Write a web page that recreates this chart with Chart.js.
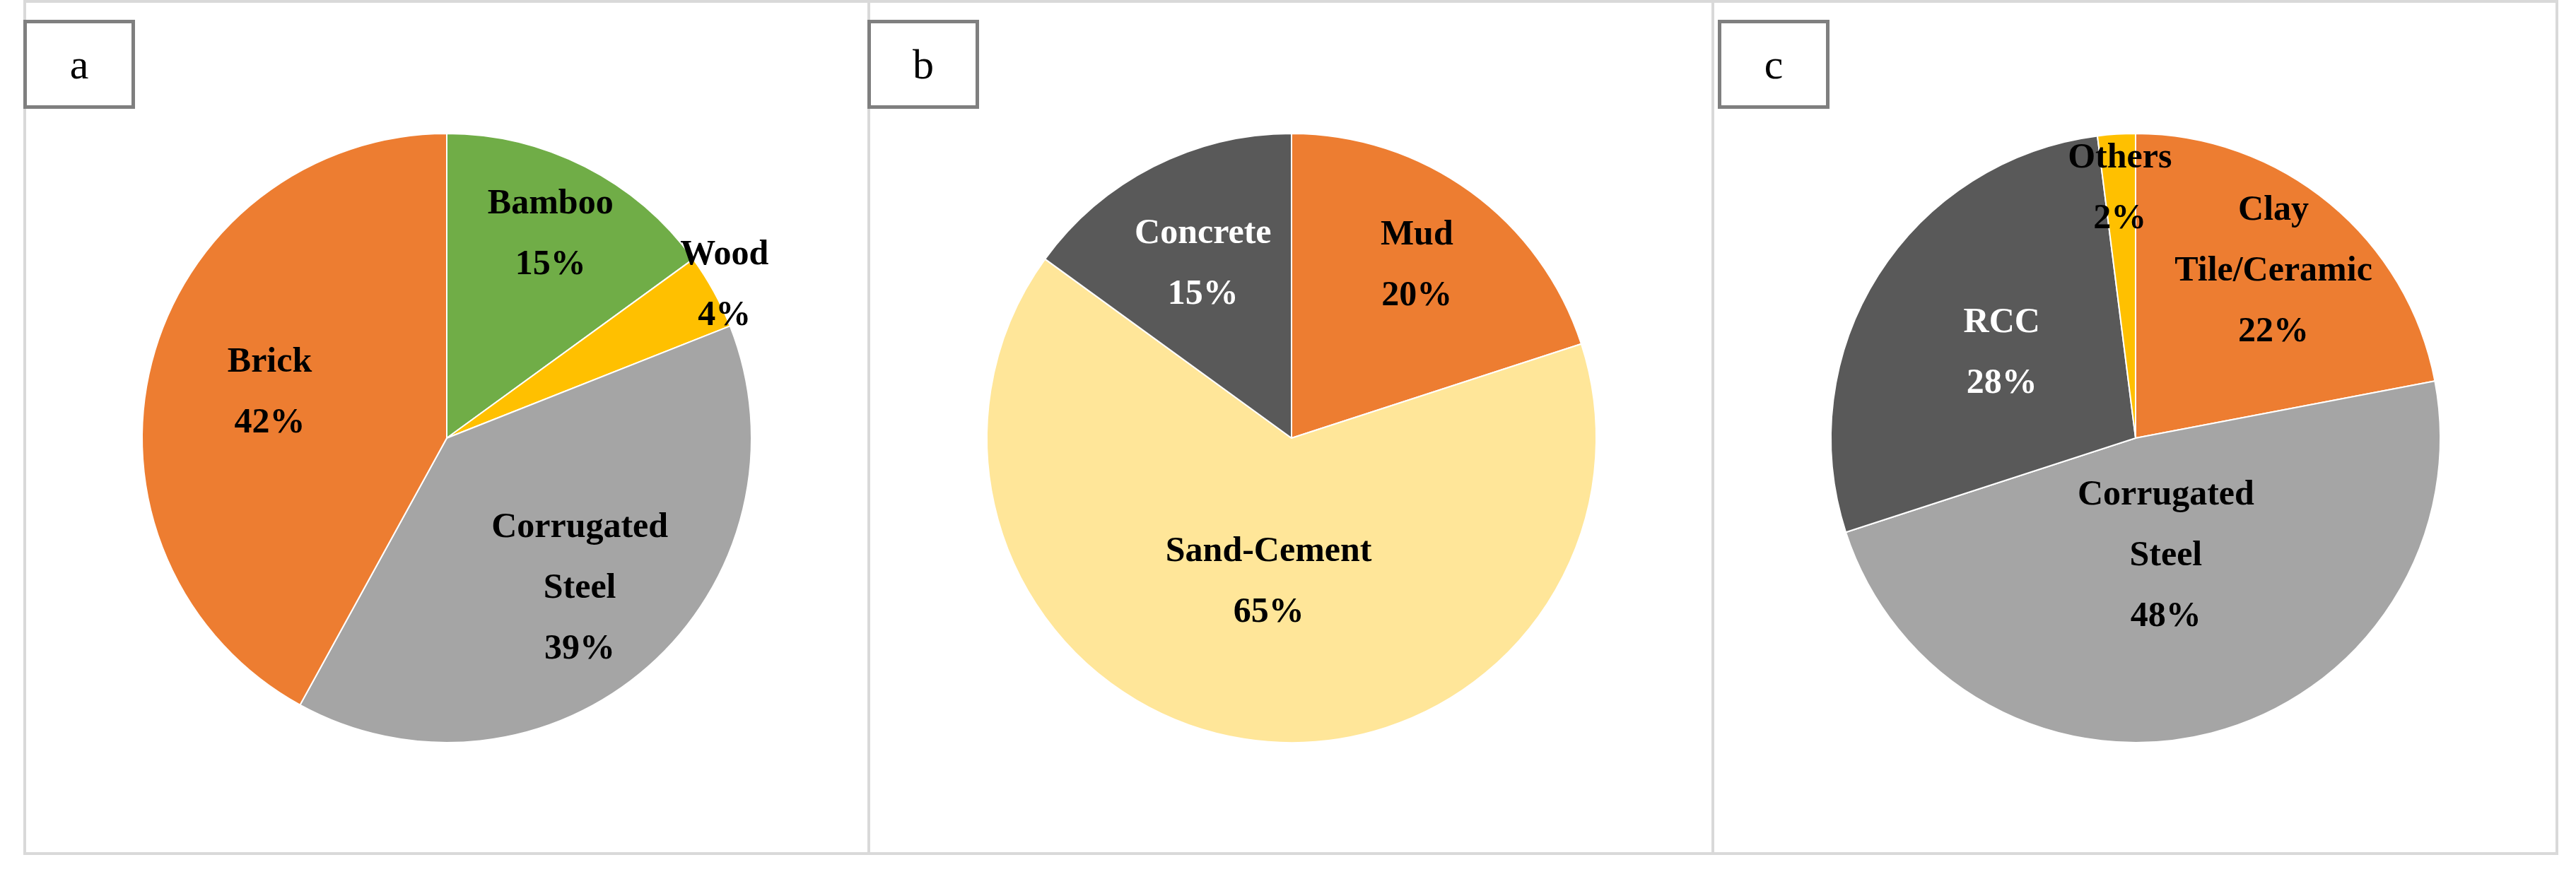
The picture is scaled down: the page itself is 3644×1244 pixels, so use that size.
<!DOCTYPE html>
<html>
<head>
<meta charset="utf-8">
<script src="https://cdn.jsdelivr.net/npm/chart.js@4/dist/chart.umd.min.js"></script>
<style>
  body { margin: 0; background: #fff; width: 3644px; height: 1244px; position: relative; overflow: hidden; }
  .panel { position: absolute; top: 0; height: 1210px; border: 4px solid #d9d9d9; box-sizing: border-box; }
  .tag { position: absolute; top: 28px; width: 158px; height: 126px; border: 5px solid #7f7f7f; box-sizing: border-box;
         font: 60px "Liberation Serif", "DejaVu Serif", serif; display: flex; align-items: center; justify-content: center; background: #fff; }
  .pie { position: absolute; top: 120px; width: 1000px; height: 1000px; }
</style>
</head>
<body>
<div class="panel" style="left:33px;width:1198px"></div>
<div class="panel" style="left:1227px;width:1198px"></div>
<div class="panel" style="left:2421px;width:1198px"></div>
<div class="tag" style="left:33px">a</div>
<div class="tag" style="left:1227px">b</div>
<div class="tag" style="left:2430px">c</div>
<div class="pie" style="left:132px"><canvas id="pieA"></canvas></div>
<div class="pie" style="left:1327px"><canvas id="pieB"></canvas></div>
<div class="pie" style="left:2521px"><canvas id="pieC"></canvas></div>
<script>
// dados de cada gráfico
const labelsA = [['Bamboo'], ['Wood'], ['Corrugated', 'Steel'], ['Brick']];
const valuesA = [15, 4, 39, 42];
const labelsB = [['Mud'], ['Sand-Cement'], ['Concrete']];
const valuesB = [20, 65, 15];
const labelsC = [['Clay', 'Tile/Ceramic'], ['Corrugated', 'Steel'], ['RCC'], ['Others']];
const valuesC = [22, 48, 28, 2];

// rótulos desenhados dentro/fora das fatias
const sliceLabels = {
  id: 'sliceLabels',
  afterDatasetsDraw(chart, args, opts) {
    const c = chart.ctx;
    const meta = chart.getDatasetMeta(0);
    const vals = chart.data.datasets[0].data;
    c.save();
    c.font = 'bold 50px "Liberation Serif", "DejaVu Serif", serif';
    c.textAlign = 'center';
    c.textBaseline = 'middle';
    meta.data.forEach((arc, i) => {
      const p = arc.getProps(['x', 'y', 'startAngle', 'endAngle', 'outerRadius']);
      const mid = (p.startAngle + p.endAngle) / 2;
      const r = p.outerRadius * opts.dist[i];
      const x = p.x + Math.cos(mid) * r;
      const y = p.y + Math.sin(mid) * r;
      const lines = chart.data.labels[i].concat([vals[i] + '%']);
      const lh = 86;
      c.fillStyle = opts.colors[i];
      lines.forEach((t, k) => c.fillText(t, x, y + (k - (lines.length - 1) / 2) * lh));
    });
    c.restore();
  }
};

function makePie(id, labels, values, colors, dist, textColors) {
  new Chart(document.getElementById(id), {
    type: 'pie',
    data: { labels: labels, datasets: [{ data: values, backgroundColor: colors, borderColor: '#fff', borderWidth: 2 }] },
    options: {
      responsive: true, maintainAspectRatio: false, animation: false,
      layout: { padding: 68 },
      plugins: { legend: { display: false }, tooltip: { enabled: false },
                 sliceLabels: { dist: dist, colors: textColors } }
    },
    plugins: [sliceLabels]
  });
}

makePie('pieA', labelsA, valuesA, ['#70AD47', '#FFC000', '#A5A5A5', '#ED7D31'],
        [0.75, 1.04, 0.66, 0.6], ['#000', '#000', '#000', '#000']);
makePie('pieB', labelsB, valuesB, ['#ED7D31', '#FFE699', '#595959'],
        [0.7, 0.48, 0.64], ['#000', '#000', '#fff']);
makePie('pieC', labelsC, valuesC, ['#ED7D31', '#A5A5A5', '#595959', '#FFC000'],
        [0.71, 0.4, 0.52, 0.82], ['#000', '#000', '#fff', '#000']);
</script>
</body>
</html>
